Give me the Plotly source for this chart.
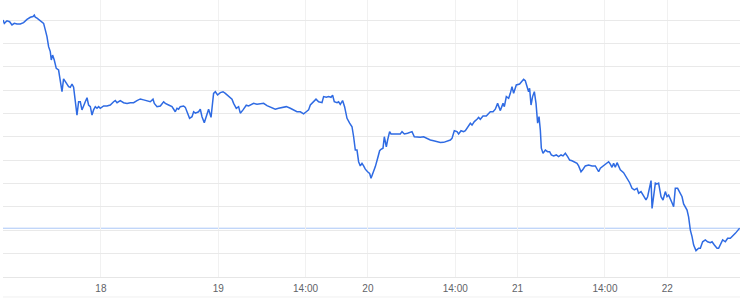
import plotly.graph_objects as go

# Time in hours relative to the 19th, 00:00 (axis is compressed on the 18th)
HOURS = [
    -34.50, -34.29, -33.86, -33.44, -33.06, -32.69, -32.26, -31.73, -31.20, -30.65,
    -30.12, -29.69, -29.48, -29.32, -29.05, -28.63, -28.25, -27.99, -27.72, -27.45,
    -27.19, -26.92, -26.76, -26.55, -26.28, -25.96, -25.59, -25.31, -25.04, -24.79,
    -24.51, -24.24, -23.98, -23.71, -23.44, -23.18, -22.91, -22.64, -22.38, -22.11,
    -21.84, -21.58, -21.31, -21.03, -20.78, -20.50, -20.23, -19.98, -19.70, -19.43,
    -19.17, -18.90, -18.37, -17.83, -17.30, -16.77, -16.50, -16.22, -15.70, -15.17,
    -14.62, -14.09, -13.56, -13.02, -12.49, -11.96, -11.41, -10.89, -10.45, -10.24,
    -9.81, -9.28, -8.75, -8.48, -7.95, -7.41, -6.88, -6.61, -6.35, -6.08,
    -5.55, -5.27, -5.00, -4.59, -4.20, -3.94, -3.67, -3.40, -3.14, -2.87,
    -2.60, -2.23, -1.91, -1.54, -1.15, -0.74, -0.46, -0.10, 0.34, 0.77,
    1.14, 1.67, 2.21, 2.47, 2.90, 3.27, 3.54, 3.98, 4.50, 4.87,
    5.15, 5.68, 6.22, 7.28, 7.82, 8.63, 9.15, 9.68, 10.23, 10.92,
    11.56, 12.09, 12.63, 13.16, 13.69, 14.12, 14.49, 14.77, 15.29, 15.68,
    16.10, 16.64, 16.90, 17.33, 17.70, 18.08, 18.34, 18.61, 19.05, 19.30,
    19.57, 19.94, 20.26, 20.65, 21.07, 21.45, 21.71, 21.98, 22.25, 22.51,
    22.78, 23.05, 23.31, 23.58, 23.95, 24.27, 24.50, 24.82, 25.19, 25.56,
    25.88, 26.10, 26.42, 26.63, 26.95, 27.16, 27.48, 27.70, 28.12, 28.66,
    29.19, 29.47, 29.84, 30.36, 30.69, 31.07, 31.44, 31.87, 32.40, 32.93,
    33.47, 34.00, 34.53, 35.08, 35.61, 36.14, 36.68, 37.21, 37.48, 37.85,
    38.28, 38.54, 38.93, 39.34, 39.62, 39.98, 40.42, 40.69, 41.06, 41.49,
    41.75, 42.02, 42.45, 42.98, 43.35, 43.62, 44.06, 44.42, 44.79, 45.11,
    45.23, 45.66, 45.87, 46.19, 46.56, 46.83, 47.10, 47.36, 47.79, 48.32,
    48.71, 48.96, 49.23, 49.51, 49.76, 49.92, 50.15, 50.40, 50.68, 50.95,
    51.21, 51.43, 51.64, 51.80, 52.07, 52.44, 52.81, 53.13, 53.40, 53.77,
    54.20, 54.57, 54.96, 55.28, 55.65, 56.02, 56.34, 56.72, 57.09, 57.52,
    57.78, 58.16, 58.49, 58.85, 59.38, 59.93, 60.46, 60.99, 61.26, 61.79,
    62.33, 62.59, 62.86, 63.13, 63.39, 63.66, 63.94, 64.19, 64.46, 64.99,
    65.54, 65.96, 66.34, 66.71, 67.14, 67.40, 67.78, 68.20, 68.58, 68.84,
    69.16, 69.39, 69.55, 69.80, 70.08, 70.35, 70.60, 70.99, 71.31, 71.68,
    71.95, 72.21, 72.48, 72.75, 73.01, 73.28, 73.65, 74.08, 74.36, 74.61,
    74.89, 75.16, 75.41, 75.69, 75.96, 76.22, 76.60, 77.02, 77.29, 77.66,
    78.09, 78.46, 78.89, 79.17, 79.54, 79.97, 80.22, 80.50, 80.87, 81.30,
    81.67, 82.10, 82.53, 82.90, 83.43, 83.59,
]

PRICE = [
    210.1, 208.7, 209.8, 209.4, 208.0, 208.7, 208.4, 208.4, 209.0, 210.4,
    211.3, 211.6, 212.2, 211.3, 210.9, 210.1, 209.4, 208.7, 205.9, 203.0,
    198.7, 196.6, 193.0, 195.1, 193.0, 189.4, 188.7, 184.4, 179.4, 184.9,
    183.7, 183.0, 181.6, 181.3, 182.7, 181.3, 175.9, 169.4, 175.1, 175.1,
    171.6, 173.0, 175.1, 176.8, 173.7, 173.0, 169.4, 171.6, 173.0, 172.3,
    173.0, 172.3, 173.3, 173.3, 173.7, 175.1, 175.6, 174.7, 175.6, 174.7,
    174.4, 174.7, 174.7, 175.6, 176.3, 175.9, 175.6, 175.1, 176.2, 174.4,
    173.0, 173.3, 175.1, 174.4, 173.7, 173.0, 170.8, 172.3, 171.9, 173.0,
    173.3, 172.7, 170.8, 168.0, 168.7, 170.8, 170.2, 170.4, 170.8, 171.9,
    168.7, 166.1, 168.7, 171.9, 168.4, 178.7, 179.4, 178.0, 179.0, 179.4,
    178.7, 177.6, 176.2, 174.4, 172.3, 173.0, 170.2, 171.6, 173.6, 173.3,
    173.7, 174.4, 174.0, 174.4, 173.4, 172.6, 171.9, 172.3, 172.6, 173.0,
    172.3, 171.6, 170.8, 170.8, 169.9, 170.8, 171.6, 173.7, 175.1, 176.2,
    175.1, 174.7, 177.3, 177.0, 177.3, 177.0, 177.9, 175.1, 174.7, 175.1,
    174.0, 175.6, 173.0, 168.0, 165.9, 164.4, 160.1, 154.4, 154.4, 149.4,
    147.6, 148.7, 147.6, 146.2, 145.1, 144.4, 142.3, 144.4, 147.3, 150.9,
    154.1, 154.7, 155.2, 160.1, 155.8, 158.7, 162.3, 161.3, 161.3, 161.6,
    161.3, 162.3, 161.3, 161.6, 161.8, 162.3, 160.1, 159.9, 159.9, 160.1,
    159.4, 158.7, 158.4, 158.0, 157.6, 157.7, 158.3, 158.7, 159.4, 162.7,
    162.3, 161.3, 162.7, 162.3, 162.7, 164.4, 165.9, 165.1, 166.6, 167.6,
    168.4, 167.6, 169.0, 169.0, 170.2, 170.8, 170.8, 171.9, 174.4, 171.6,
    171.3, 174.4, 173.0, 177.3, 176.6, 178.7, 181.6, 178.7, 182.3, 182.7,
    183.7, 184.7, 184.1, 181.6, 179.4, 180.9, 173.7, 177.3, 179.4, 174.4,
    165.9, 168.7, 163.0, 155.2, 153.0, 154.4, 153.7, 153.7, 152.3, 151.9,
    152.3, 151.6, 152.3, 151.9, 153.0, 151.6, 150.1, 149.8, 149.4, 148.7,
    147.6, 145.1, 146.2, 147.6, 148.0, 147.6, 147.6, 145.1, 146.6, 147.6,
    148.7, 149.4, 148.4, 147.0, 148.7, 147.0, 149.0, 147.3, 145.9, 144.7,
    142.3, 140.4, 138.0, 137.3, 138.0, 135.9, 136.6, 134.4, 133.0, 134.4,
    138.7, 141.3, 129.4, 135.9, 140.2, 139.9, 140.2, 134.4, 133.0, 136.6,
    134.4, 135.1, 133.0, 131.8, 130.1, 138.0, 138.0, 136.1, 134.4, 131.3,
    130.1, 128.7, 125.8, 120.1, 117.3, 113.7, 111.3, 112.3, 112.3, 115.1,
    115.9, 115.1, 114.7, 115.1, 113.7, 112.3, 112.3, 114.1, 115.9, 115.1,
    116.6, 116.6, 117.6, 118.7, 120.4, 120.9,
]

TICK_HOURS = [-18.8, 0, 14, 24, 38, 48, 62, 72]
TICK_TEXT = ["18", "19", "14:00", "20", "14:00", "21", "14:00", "22"]

fig = go.Figure()
fig.add_trace(go.Scatter(
    x=HOURS, y=PRICE, mode="lines",
    line=dict(color="#2f6be3", width=1.5),
    hoverinfo="skip", showlegend=False,
))

# reference line at the last price
fig.add_shape(type="line", xref="paper", x0=0, x1=1, yref="y",
              y0=PRICE[-1], y1=PRICE[-1],
              line=dict(color="#aac6f7", width=1), layer="below")
# faint bottom border under the labels
fig.add_shape(type="line", xref="paper", x0=0, x1=1, yref="paper",
              y0=-0.072, y1=-0.072,
              line=dict(color="#f0f0f0", width=1), layer="below")

fig.update_layout(
    width=740, height=298,
    margin=dict(l=3, r=0, t=0, b=21),
    paper_bgcolor="white", plot_bgcolor="white",
    font=dict(family="Arial, Liberation Sans, sans-serif", size=10, color="#5f6368"),
    xaxis=dict(
        range=[-34.5, 83.65],
        tickmode="array", tickvals=TICK_HOURS, ticktext=TICK_TEXT,
        showgrid=True, gridcolor="#f1f1f1", gridwidth=1,
        zeroline=False, showline=True, linecolor="#e6e6e6", linewidth=1,
        ticks="", ticklabelstandoff=2,
        tickfont=dict(size=10, color="#5f6368"),
    ),
    yaxis=dict(
        range=[100, 218.7], dtick=10, tick0=100,
        showgrid=True, gridcolor="#e9e9e9", gridwidth=1,
        zeroline=False, showticklabels=False, ticks="",
    ),
)

fig.write_html("out.html")
